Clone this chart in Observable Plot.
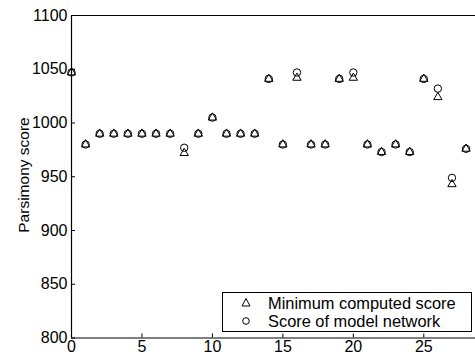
<!DOCTYPE html>
<html>
<head>
<meta charset="utf-8">
<script src="https://cdn.jsdelivr.net/npm/d3@7"></script>
<script src="https://cdn.jsdelivr.net/npm/@observablehq/plot@0.6"></script>
<style>
  html, body { margin: 0; padding: 0; background: #fff; overflow: hidden; }
  #wrap { position: relative; width: 475px; height: 358px; font-family: "Liberation Sans", Arial, sans-serif; }
  #legend { position: absolute; left: 222px; top: 292px; width: 250px; height: 40px; border: 1.3px solid #000; background: #fff; box-sizing: border-box; }
  #legend .row { position: absolute; left: 0; height: 18px; font-size: 16.4px; line-height: 18px; white-space: nowrap; }
  #legend svg { position: absolute; left: 16px; top: 2px; }
  #legend span { position: absolute; left: 45px; top: 0; }
  #ylabel { position: absolute; left: 24px; top: 175px; font-size: 15.5px; white-space: nowrap; transform: translate(-50%, -50%) rotate(-90deg); line-height: 1; }
</style>
</head>
<body>
<div id="wrap"></div>
<script>
const runs = [0,1,2,3,4,5,6,7,8,9,10,11,12,13,14,15,16,17,18,19,20,21,22,23,24,25,26,27,28];
const minimumComputed = [1047,980,990,990,990,990,990,990,972,990,1005,990,990,990,1041,980,1042,980,980,1041,1042,980,973,980,973,1041,1024,943,976];
const modelNetwork   = [1047,980,990,990,990,990,990,990,977,990,1005,990,990,990,1041,980,1047,980,980,1041,1047,980,973,980,973,1041,1032,949,976];
const xTicks = [0,5,10,15,20,25];
const yTicks = [800,850,900,950,1000,1050,1100];
const seriesNames = ["Minimum computed score", "Score of model network"];
const yLabel = "Parsimony score";

const triData = runs.map((r,i) => ({run: r, score: minimumComputed[i]}));
const circData = runs.map((r,i) => ({run: r, score: modelNetwork[i]}));

const chart = Plot.plot({
  width: 475,
  height: 358,
  marginLeft: 71,
  marginRight: 0,
  marginTop: 15,
  marginBottom: 20.5,
  style: {fontFamily: "Liberation Sans, Arial, sans-serif", fontSize: "16px", color: "#000", background: "#fff"},
  x: {domain: [0, 28.67], ticks: xTicks},
  y: {domain: [800, 1100], ticks: yTicks},
  marks: [
    Plot.ruleY([1100], {stroke: "#000", strokeWidth: 1.2}),
    Plot.ruleY([800], {stroke: "#000", strokeWidth: 1.2}),
    Plot.ruleX([0], {stroke: "#000", strokeWidth: 1.2}),
    Plot.axisX({ticks: xTicks, tickFormat: d3.format("d"), tickSize: -4, tickPadding: 7, label: null, fontSize: 16}),
    Plot.axisY({ticks: yTicks, tickFormat: d3.format("d"), tickSize: -4, tickPadding: 8, label: null, fontSize: 16}),
    Plot.dot(triData, {x: "run", y: "score", symbol: "triangle", r: 3.1, stroke: "#000", strokeWidth: 1, fill: "none"}),
    Plot.dot(circData, {x: "run", y: "score", symbol: "circle", r: 3.7, stroke: "#000", strokeWidth: 1, fill: "none"})
  ]
});

const wrap = document.getElementById("wrap");
wrap.appendChild(chart);

const yl = document.createElement("div");
yl.id = "ylabel";
yl.textContent = yLabel;
wrap.appendChild(yl);

const legend = document.createElement("div");
legend.id = "legend";
const syms = [
  '<svg width="14" height="14"><path d="M7,2.5 L11,10 L3,10 Z" fill="none" stroke="#000" stroke-width="1"/></svg>',
  '<svg width="14" height="14"><circle cx="7" cy="7" r="3.3" fill="none" stroke="#000" stroke-width="1"/></svg>'
];
seriesNames.forEach((name, i) => {
  const row = document.createElement("div");
  row.className = "row";
  row.style.top = (1 + i * 18) + "px";
  row.innerHTML = syms[i] + "<span>" + name + "</span>";
  legend.appendChild(row);
});
wrap.appendChild(legend);
</script>
</body>
</html>
